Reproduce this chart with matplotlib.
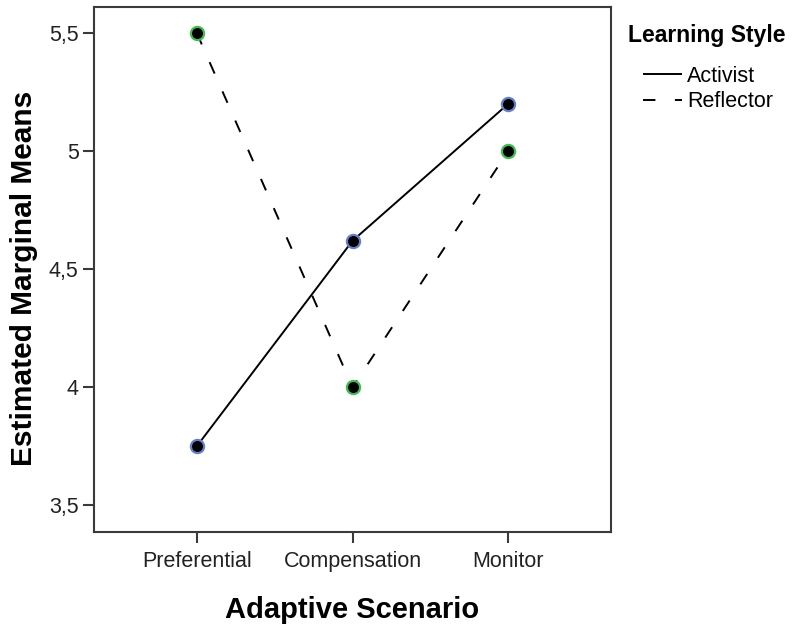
import matplotlib
matplotlib.use("Agg")
import matplotlib.pyplot as plt

plt.rcParams['font.family'] = ['Liberation Sans', 'DejaVu Sans']

# data
scenarios = ['Preferential', 'Compensation', 'Monitor']
activist = [3.75, 4.62, 5.20]
reflector = [5.50, 4.00, 5.00]
y_ticks = [3.5, 4.0, 4.5, 5.0, 5.5]
y_tick_labels = ['3,5', '4', '4,5', '5', '5,5']

fig = plt.figure(figsize=(7.94, 6.3), dpi=100)
ax = fig.add_axes([94 / 794, 1 - 532 / 630, 517 / 794, 525 / 630])

x = list(range(len(scenarios)))

ax.plot(x, activist, color='black', lw=1.4, solid_capstyle='butt',
        marker='o', markersize=9.5, markerfacecolor='black',
        markeredgecolor='#6680c8', markeredgewidth=1.6, label='Activist')
ax.plot(x, reflector, color='black', lw=1.4, dashes=(6.4, 10),
        marker='o', markersize=9.5, markerfacecolor='black',
        markeredgecolor='#44bb55', markeredgewidth=1.6, label='Reflector')

ax.set_xlim(-0.66, 2.66)
ax.set_ylim(3.387, 5.61)
ax.set_xticks(x)
ax.set_xticklabels(scenarios)
ax.set_yticks(y_ticks)
ax.set_yticklabels(y_tick_labels)

for s in ax.spines.values():
    s.set_color('#3a3a3a')
    s.set_linewidth(1.5)
ax.tick_params(axis='both', length=8, width=1.5, color='#3a3a3a',
               labelsize=15.5, labelcolor='#222222')
ax.tick_params(axis='x', pad=6)
ax.tick_params(axis='y', pad=3)

ax.set_xlabel('Adaptive Scenario', fontsize=21, fontweight='bold', labelpad=17)
ax.set_ylabel('Estimated Marginal Means', fontsize=21.5, fontweight='bold',
              labelpad=8, y=0.483)

# legend
fig.text(628 / 794, 1 - 41.7 / 630, 'Learning Style', fontsize=16.5,
         fontweight='bold', va='baseline', ha='left')
leg = ax.legend(loc='upper left', bbox_to_anchor=(643 / 794, 1 - 66 / 630),
                bbox_transform=fig.transFigure, frameon=False, fontsize=15.5,
                handlelength=1.8, handletextpad=0.25, borderpad=0,
                borderaxespad=0, labelspacing=0.2)
for h in leg.legend_handles:
    h.set_marker('')

fig.savefig('out.png', dpi=100)
